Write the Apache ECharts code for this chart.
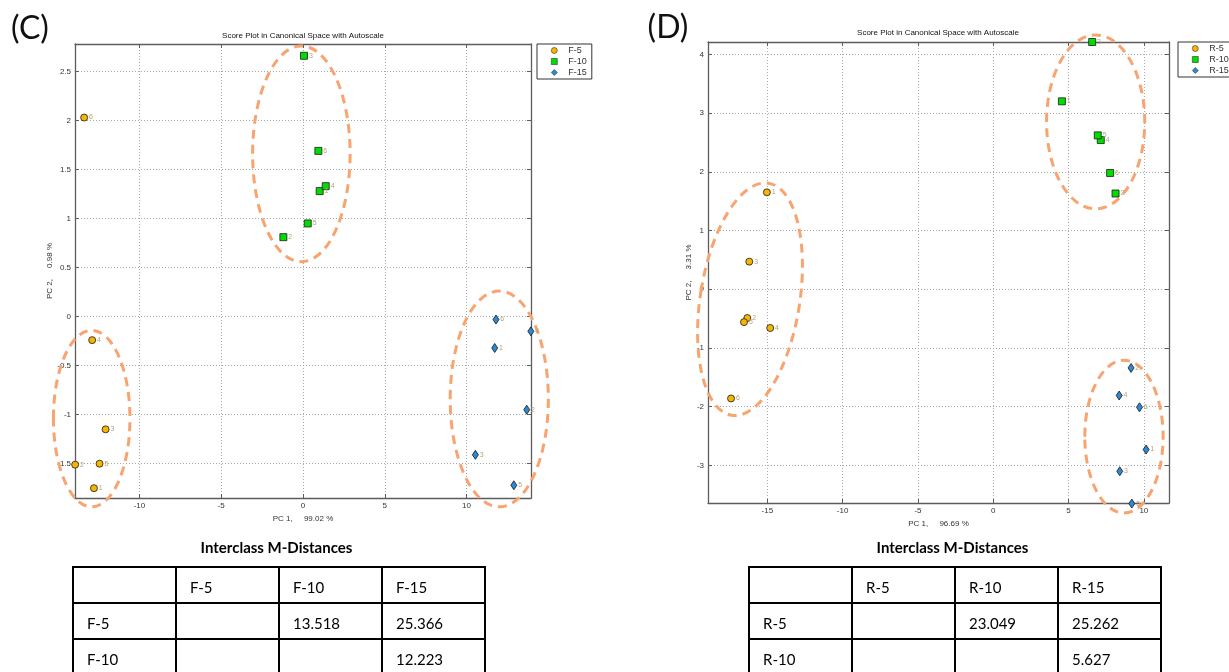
<!DOCTYPE html>
<html>
<head>
<meta charset="utf-8">
<script src="https://cdn.jsdelivr.net/npm/echarts@6/dist/echarts.min.js"></script>
<style>
    body { margin: 0; background: #fff; }
    #wrap { position: relative; width: 1229px; height: 672px; overflow: hidden; }
    #chart { position: absolute; left: 0; top: 0; width: 1229px; height: 672px; }
    .dist-title { position: absolute; top: 538px; width: 409px; text-align: center;
        font: bold 15px Lato, "Open Sans", sans-serif; color: #000; }
    table.dist { position: absolute; top: 566px; border-collapse: collapse; table-layout: fixed;
        font: 15px Lato, "Open Sans", sans-serif; color: #000; }
    table.dist td { border: 2.5px solid #000; width: 103px; height: 36px; padding: 3px 0 0 13px;
        box-sizing: border-box; vertical-align: middle; }
</style>
</head>
<body>
<div id="wrap">
    <div id="chart"></div>
    <div class="dist-title" style="left:72px">Interclass M-Distances</div>
    <table class="dist" id="tableC" style="left:72px"></table>
    <div class="dist-title" style="left:748px">Interclass M-Distances</div>
    <table class="dist" id="tableD" style="left:748px"></table>
</div>
<script>
// point ids, same order in every class
const pointIds = ["1", "2", "3", "4", "5", "6"];

// panel C (PC1 / PC2 scores)
const f5X = [-12.78, -13.93, -12.07, -12.89, -12.44, -13.38];
const f5Y = [-1.75, -1.51, -1.15, -0.24, -1.50, 2.03];
const f10X = [1.02, -1.20, 0.06, 1.39, 0.29, 0.94];
const f10Y = [1.28, 0.81, 2.66, 1.33, 0.95, 1.69];
const f15X = [11.72, 13.68, 10.54, 13.93, 12.89, 11.80];
const f15Y = [-0.32, -0.95, -1.41, -0.15, -1.72, -0.03];

// panel D
const r5X = [-15.03, -16.33, -16.20, -14.81, -16.55, -17.41];
const r5Y = [1.65, -0.49, 0.47, -0.66, -0.56, -1.86];
const r10X = [4.56, 8.12, 6.57, 7.14, 6.94, 7.76];
const r10Y = [3.20, 1.63, 4.21, 2.54, 2.62, 1.98];
const r15X = [10.15, 9.15, 8.40, 8.36, 9.20, 9.71];
const r15Y = [-2.73, -1.34, -3.10, -1.81, -3.65, -2.01];

// hand-drawn cluster rings: centre x, centre y, half width, half height (data units), tilt deg
const ringsC = [[-12.92, -1.04, 2.34, 0.90, 0], [-0.10, 1.66, 2.98, 1.10, 0], [12.0, -0.84, 3.0, 1.10, 0]];
const ringsD = [[-16.15, -0.17, 3.3, 2.0, -9], [6.8, 2.85, 3.26, 1.48, 0], [8.68, -2.51, 2.6, 1.30, 0]];

// interclass distance tables
const classesC = ["F-5", "F-10", "F-15"];
const distC = [["", "13.518", "25.366"], ["", "", "12.223"]];
const classesD = ["R-5", "R-10", "R-15"];
const distD = [["", "23.049", "25.262"], ["", "", "5.627"]];

const AXIS_FONT = '"Liberation Sans", Arial, sans-serif';

function zipPoints(xs, ys) {
    return xs.map((x, i) => [x, ys[i], pointIds[i]]);
}

function scoreSeries(name, xs, ys, idx, symbol, color, size) {
    return {
        name: name,
        type: "scatter",
        xAxisIndex: idx * 2,
        yAxisIndex: idx * 2,
        symbol: symbol,
        symbolSize: size,
        clip: false,
        data: zipPoints(xs, ys),
        itemStyle: { color: color, borderColor: "#1a1a1a", borderWidth: 0.8, opacity: 1 },
        label: {
            show: true,
            position: "right",
            distance: 1,
            fontSize: 7,
            fontFamily: AXIS_FONT,
            color: "#b7a27c",
            formatter: p => p.value[2]
        },
        z: 5
    };
}

function ringItem(params, api) {
    const c = api.coord([api.value(0), api.value(1)]);
    const s = api.size([api.value(2), api.value(3)]);
    return {
        type: "ellipse",
        x: c[0],
        y: c[1],
        rotation: api.value(4) * Math.PI / 180,
        shape: { cx: 0, cy: 0, rx: s[0], ry: s[1] },
        style: { fill: null, stroke: "#f7a470", lineWidth: 3, lineDash: [9, 6] }
    };
}

function ringSeries(rings, idx) {
    return {
        type: "custom",
        xAxisIndex: idx * 2,
        yAxisIndex: idx * 2,
        renderItem: ringItem,
        data: rings,
        encode: { x: 0, y: 1 },
        clip: false,
        silent: true,
        z: 3
    };
}

function valueAxis(grid, position, min, max, step, opts) {
    const main = position === "bottom" || position === "left";
    return Object.assign({
        type: "value",
        gridIndex: grid,
        position: position,
        min: min,
        max: max,
        minInterval: step,
        maxInterval: step,
        splitNumber: 6,
        axisLine: { show: true, onZero: false, lineStyle: { color: "#5c5c5c", width: 1.3 } },
        axisTick: { show: true, inside: true, length: 4, lineStyle: { color: "#5c5c5c" } },
        axisLabel: {
            show: main,
            margin: 4,
            fontSize: 8,
            fontFamily: AXIS_FONT,
            color: "#333",
            showMinLabel: false,
            showMaxLabel: false
        },
        splitLine: { show: main, lineStyle: { color: "#a8a8a8", type: [1, 2], width: 1 } }
    }, opts || {});
}

function axisName(text, gap) {
    return {
        name: text,
        nameLocation: "middle",
        nameGap: gap,
        nameTextStyle: { fontSize: 8, fontFamily: AXIS_FONT, color: "#333" }
    };
}

function legendFor(names, left, top) {
    return {
        data: names,
        orient: "vertical",
        left: left,
        top: top,
        itemWidth: 6,
        itemHeight: 6,
        itemGap: 2,
        padding: [2, 5, 2, 14],
        borderColor: "#333",
        borderWidth: 1,
        backgroundColor: "#fff",
        selectedMode: false,
        itemStyle: { borderWidth: 0.6, borderColor: "#333" },
        textStyle: { fontSize: 9, fontFamily: AXIS_FONT, color: "#333", padding: [0, 0, 0, 6] }
    };
}

function textMark(text, x, y, size, family, weight) {
    return {
        type: "text",
        x: x,
        y: y,
        style: {
            text: text,
            align: "center",
            verticalAlign: "middle",
            fontSize: size,
            fontFamily: family,
            fontWeight: weight || "normal",
            fill: "#111"
        }
    };
}

function renderTable(id, classes, dist) {
    const table = document.getElementById(id);
    let html = "<tr><td></td>" + classes.map(c => `<td>${c}</td>`).join("") + "</tr>";
    dist.forEach((row, i) => {
        html += `<tr><td>${classes[i]}</td>` + row.map(v => `<td>${v}</td>`).join("") + "</tr>";
    });
    table.innerHTML = html;
}

const chart = echarts.init(document.getElementById("chart"), null, { renderer: "canvas" });

chart.setOption({
    animation: false,
    grid: [
        { left: 75, top: 44, width: 456, height: 454 },
        { left: 708, top: 42, width: 461, height: 461 }
    ],
    xAxis: [
        valueAxis(0, "bottom", -13.94, 13.94, 5, axisName("PC 1,     99.02 %", 13)),
        valueAxis(0, "top", -13.94, 13.94, 5),
        valueAxis(1, "bottom", -18.94, 11.67, 5, axisName("PC 1,     96.69 %", 11)),
        valueAxis(1, "top", -18.94, 11.67, 5)
    ],
    yAxis: [
        valueAxis(0, "left", -1.85, 2.78, 0.5, axisName("PC 2,     0.98 %", 20)),
        valueAxis(0, "right", -1.85, 2.78, 0.5),
        valueAxis(1, "left", -3.64, 4.21, 1, axisName("PC 2,     3.31 %", 14)),
        valueAxis(1, "right", -3.64, 4.21, 1)
    ],
    legend: [
        legendFor(["F-5", "F-10", "F-15"], 537, 44),
        legendFor(["R-5", "R-10", "R-15"], 1178, 42)
    ],
    graphic: [
        textMark("(C)", 30, 29, 32, "Lato, sans-serif"),
        textMark("(D)", 668, 28, 32, "Lato, sans-serif"),
        textMark("Score Plot in Canonical Space with Autoscale", 303, 36, 8, AXIS_FONT),
        textMark("Score Plot in Canonical Space with Autoscale", 938, 33, 8, AXIS_FONT)
    ],
    series: [
        ringSeries(ringsC, 0),
        ringSeries(ringsD, 1),
        scoreSeries("F-5", f5X, f5Y, 0, "circle", "#f6b500", 7),
        scoreSeries("F-10", f10X, f10Y, 0, "rect", "#00dd00", 7),
        scoreSeries("F-15", f15X, f15Y, 0, "diamond", "#2a8ad6", [6, 9]),
        scoreSeries("R-5", r5X, r5Y, 1, "circle", "#f6b500", 7),
        scoreSeries("R-10", r10X, r10Y, 1, "rect", "#00dd00", 7),
        scoreSeries("R-15", r15X, r15Y, 1, "diamond", "#2a8ad6", [6, 9])
    ]
});

renderTable("tableC", classesC, distC);
renderTable("tableD", classesD, distD);
</script>
</body>
</html>
